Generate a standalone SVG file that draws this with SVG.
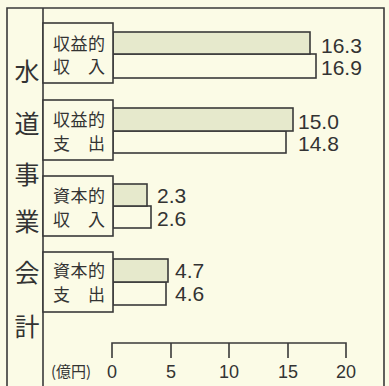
<svg xmlns="http://www.w3.org/2000/svg" width="389" height="386" viewBox="0 0 389 386">
<style>
.ln{fill:none;stroke:#3a3a3a;stroke-width:1.6}
.b1{fill:#e6e9cc;stroke:#3a3a3a;stroke-width:1.6}
.b2{fill:#fbfbe6;stroke:#3a3a3a;stroke-width:1.6}
.box{fill:#fbfbe6;stroke:#3a3a3a;stroke-width:1.6}
.jp{font-family:"Noto Sans CJK JP","Noto Sans",sans-serif;fill:#333}
.lab{font-size:17px;letter-spacing:0.5px}
.ttl{font-size:25px;text-anchor:middle}
.val{font-family:"Liberation Sans",Arial,sans-serif;font-size:21px;fill:#333}
.tk{font-family:"Liberation Sans",Arial,sans-serif;font-size:18px;fill:#333;text-anchor:middle}
</style>
<rect x="0" y="0" width="389" height="386" fill="#fbfbe6"/>
<g id="frame">
<path class="ln" d="M7,386 V8 H384 V386"/>
<path class="ln" d="M43,8 V386"/>
</g>
<g id="title">
<text class="jp ttl" x="27" y="81">水</text>
<text class="jp ttl" x="27" y="133">道</text>
<text class="jp ttl" x="27" y="184">事</text>
<text class="jp ttl" x="27" y="231">業</text>
<text class="jp ttl" x="27" y="282">会</text>
<text class="jp ttl" x="27" y="336">計</text>
</g>
<g id="connectors">
<rect class="b2" x="113" y="54" width="203" height="24"/>
<rect class="b1" x="113" y="32" width="197" height="22"/>
<rect class="b2" x="113" y="131" width="173" height="22"/>
<rect class="b1" x="113" y="108" width="180" height="23"/>
<rect class="b2" x="113" y="206" width="38" height="22"/>
<rect class="b1" x="113" y="184" width="34" height="22"/>
<rect class="b2" x="113" y="282" width="53" height="23"/>
<rect class="b1" x="113" y="259" width="55" height="23"/>
</g>
<g id="node-1">
<rect class="box" x="43" y="23" width="70" height="60"/>
<text class="jp lab" x="53" y="50">収益的</text>
<text class="jp lab" x="53" y="73">収　入</text>
<text class="val" x="321" y="53">16.3</text>
<text class="val" x="321" y="75">16.9</text>
</g>
<g id="node-2">
<rect class="box" x="43" y="100" width="70" height="60"/>
<text class="jp lab" x="53" y="126">収益的</text>
<text class="jp lab" x="53" y="150">支　出</text>
<text class="val" x="298" y="129">15.0</text>
<text class="val" x="298" y="151">14.8</text>
</g>
<g id="node-3">
<rect class="box" x="43" y="176" width="70" height="60"/>
<text class="jp lab" x="53" y="202">資本的</text>
<text class="jp lab" x="53" y="226">収　入</text>
<text class="val" x="157" y="203">2.3</text>
<text class="val" x="157" y="226">2.6</text>
</g>
<g id="node-4">
<rect class="box" x="43" y="252" width="70" height="60"/>
<text class="jp lab" x="53" y="277">資本的</text>
<text class="jp lab" x="53" y="301">支　出</text>
<text class="val" x="175" y="278">4.7</text>
<text class="val" x="175" y="301">4.6</text>
</g>
<g id="axis">
<path class="ln" d="M112,358 V343 H346 V358 M171,343 V358 M229,343 V358 M288,343 V358"/>
<text class="tk" x="112" y="378">0</text>
<text class="tk" x="171" y="378">5</text>
<text class="tk" x="229" y="378">10</text>
<text class="tk" x="288" y="378">15</text>
<text class="tk" x="346" y="378">20</text>
<text class="jp" x="51" y="377" font-size="15">(億円)</text>
</g>
</svg>
